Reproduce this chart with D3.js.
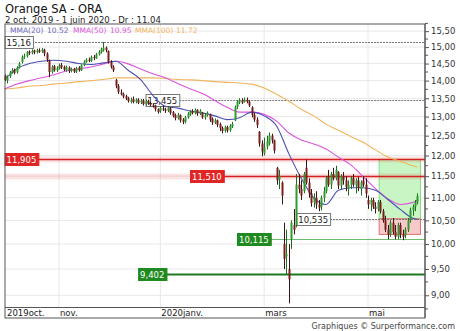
<!DOCTYPE html>
<html>
<head>
<meta charset="utf-8">
<script src="https://cdn.jsdelivr.net/npm/d3@7"></script>
<style>
  body { margin: 0; background: #fff; }
  svg { display: block; font-family: "DejaVu Sans", Verdana, sans-serif; }
</style>
</head>
<body>
<svg id="chart"></svg>
<script>
// Daily OHLC, 2 oct. 2019 -> 1 juin 2020 (one value per trading day)
const opens = [14.15,14.00,14.12,14.25,14.32,14.24,14.38,14.55,14.70,14.72,
  14.86,14.82,14.90,14.84,14.90,14.86,14.92,14.80,14.60,14.25,
  14.42,14.30,14.36,14.46,14.40,14.30,14.38,14.28,14.34,14.26,
  14.38,14.30,14.45,14.55,14.62,14.58,14.70,14.66,14.78,14.84,
  14.90,14.98,14.88,14.55,14.40,14.02,13.85,13.66,13.62,13.56,
  13.50,13.40,13.48,13.40,13.46,13.38,13.44,13.34,13.42,13.36,
  13.32,13.30,13.20,13.15,13.22,13.20,13.16,13.22,13.12,13.04,
  12.96,13.04,12.92,12.86,12.98,13.06,13.14,13.10,13.18,13.08,
  13.10,12.98,13.04,13.06,12.94,12.84,12.90,12.80,12.70,12.62,
  12.72,12.64,12.74,12.90,13.26,13.38,13.44,13.40,13.46,13.40,
  13.25,13.05,12.92,12.60,12.30,12.05,12.22,12.30,12.50,12.38,
  11.70,11.42,11.35,10.00,9.75,9.50,10.10,10.40,10.40,11.30,
  11.20,11.15,11.70,11.35,11.10,10.90,11.00,10.85,10.80,11.00,
  11.15,11.50,11.30,11.55,11.45,11.60,11.28,11.50,11.40,11.20,
  11.30,11.45,11.28,11.40,11.20,11.40,11.30,10.95,10.85,10.95,
  10.80,10.75,10.90,10.70,10.50,10.30,10.20,10.45,10.25,10.15,
  10.40,10.20,10.18,10.30,10.50,10.72,10.80,10.90];
const highs = [14.18,14.15,14.28,14.36,14.35,14.42,14.55,14.75,14.80,14.88,
  14.90,14.93,14.92,14.95,14.96,14.97,14.95,14.84,14.62,14.45,
  14.46,14.42,14.50,14.52,14.44,14.44,14.42,14.38,14.37,14.40,
  14.42,14.48,14.60,14.66,14.68,14.74,14.76,14.82,14.90,14.98,
  15.16,15.02,14.90,14.60,14.45,14.05,13.90,13.75,13.66,13.60,
  13.54,13.52,13.55,13.50,13.50,13.48,13.48,13.46,13.46,13.40,
  13.36,13.32,13.22,13.28,13.30,13.24,13.28,13.26,13.15,13.08,
  13.10,13.06,12.96,13.02,13.12,13.18,13.20,13.22,13.20,13.20,
  13.12,13.08,13.14,13.08,12.98,12.95,12.92,12.84,12.74,12.76,
  12.76,12.80,12.86,13.30,13.45,13.50,13.50,13.52,13.52,13.44,
  13.28,13.10,12.98,12.62,12.38,12.45,12.50,12.58,12.55,12.40,
  11.72,11.65,11.38,10.45,10.30,10.00,10.50,10.75,11.55,11.55,
  11.40,11.60,11.90,11.45,11.20,11.10,11.15,10.95,11.05,11.25,
  11.50,11.65,11.60,11.70,11.75,11.62,11.55,11.60,11.50,11.40,
  11.50,11.55,11.45,11.48,11.40,11.50,11.45,11.05,11.00,11.00,
  10.90,10.95,10.95,10.75,10.60,10.40,10.50,10.55,10.40,10.45,
  10.45,10.30,10.35,10.55,10.78,10.85,10.95,11.10];
const lows = [13.98,13.92,14.08,14.20,14.18,14.20,14.35,14.50,14.64,14.68,
  14.76,14.78,14.78,14.80,14.82,14.82,14.72,14.55,14.10,14.20,
  14.26,14.25,14.32,14.34,14.28,14.26,14.22,14.24,14.22,14.22,
  14.26,14.28,14.42,14.52,14.54,14.55,14.60,14.64,14.74,14.80,
  14.86,14.84,14.50,14.35,14.25,13.78,13.62,13.58,13.50,13.45,
  13.38,13.36,13.36,13.36,13.34,13.34,13.30,13.30,13.32,13.28,
  13.24,13.14,13.08,13.10,13.15,13.10,13.12,13.05,12.98,12.90,
  12.92,12.84,12.80,12.82,12.94,13.02,13.06,13.06,13.02,13.04,
  12.94,12.92,13.00,12.86,12.78,12.80,12.72,12.62,12.56,12.58,
  12.58,12.60,12.70,12.88,13.20,13.34,13.34,13.38,13.36,13.26,
  12.98,12.86,12.70,12.22,11.98,12.00,12.15,12.25,12.30,12.05,
  11.30,11.20,10.85,9.50,9.40,8.85,9.90,10.20,10.35,11.10,
  10.95,11.10,11.30,11.00,10.80,10.78,10.75,10.70,10.72,10.90,
  11.10,11.25,11.20,11.40,11.40,11.20,11.20,11.30,11.15,11.05,
  11.20,11.25,11.10,11.15,11.05,11.25,11.00,10.75,10.70,10.75,
  10.65,10.70,10.65,10.45,10.25,10.10,10.15,10.20,10.10,10.10,
  10.12,10.08,10.12,10.25,10.45,10.60,10.70,10.85];
const closes = [14.02,14.10,14.25,14.30,14.22,14.38,14.50,14.70,14.72,14.85,
  14.82,14.88,14.84,14.90,14.86,14.92,14.80,14.62,14.25,14.40,
  14.30,14.36,14.45,14.38,14.32,14.40,14.28,14.34,14.26,14.36,
  14.30,14.45,14.55,14.62,14.58,14.70,14.66,14.78,14.85,14.92,
  14.98,14.90,14.55,14.40,14.30,13.85,13.68,13.62,13.55,13.50,
  13.42,13.45,13.40,13.46,13.38,13.44,13.34,13.42,13.36,13.32,
  13.30,13.20,13.12,13.24,13.20,13.16,13.24,13.10,13.02,12.96,
  13.05,12.90,12.86,12.98,13.08,13.14,13.10,13.18,13.08,13.16,
  12.98,13.04,13.10,12.92,12.84,12.90,12.78,12.70,12.62,12.72,
  12.64,12.76,12.80,13.25,13.40,13.44,13.38,13.46,13.40,13.30,
  13.05,12.92,12.78,12.30,12.10,12.20,12.35,12.50,12.38,12.12,
  11.40,11.50,11.05,9.70,9.80,9.30,10.45,10.30,11.30,11.20,
  11.05,11.55,11.35,11.10,10.88,11.00,10.85,10.78,11.00,11.15,
  11.45,11.30,11.55,11.45,11.65,11.28,11.50,11.40,11.25,11.30,
  11.45,11.30,11.40,11.22,11.35,11.30,11.10,10.85,10.95,10.80,
  10.75,10.90,10.70,10.50,10.30,10.20,10.45,10.25,10.15,10.40,
  10.20,10.15,10.30,10.50,10.72,10.80,10.90,11.04];

// Moving averages, read every 5 trading days
const maDays = [0,5,10,15,20,25,30,35,40,45,50,55,60,65,70,75,80,85,90,95,100,105,110,115,120,125,130,135,140,145,150,155,160,165,167];
const mma20  = [14.03,14.35,14.50,14.57,14.60,14.57,14.50,14.47,14.52,14.57,14.30,14.03,13.58,13.28,13.23,13.15,13.10,13.02,12.92,12.97,13.12,13.02,12.75,12.04,11.45,11.00,10.85,11.17,11.23,11.23,11.17,10.96,10.74,10.55,10.52];
const mma50  = [13.76,13.90,14.00,14.08,14.17,14.28,14.34,14.40,14.49,14.57,14.49,14.34,14.20,14.08,13.92,13.77,13.63,13.44,13.25,13.12,13.12,13.06,12.88,12.57,12.39,12.29,12.16,11.96,11.77,11.49,11.21,10.98,10.85,10.89,10.95];
const mma100 = [13.76,13.79,13.84,13.86,13.90,13.93,13.97,14.00,14.03,14.08,14.08,14.08,14.08,14.06,14.03,14.02,14.00,13.97,13.95,13.93,13.90,13.79,13.61,13.42,13.20,13.02,12.80,12.64,12.48,12.33,12.14,11.96,11.86,11.75,11.72];

// Month labels (trading-day index of first session)
const monthDays   = [0, 22, 63, 105, 147];
const monthLabels = ["2019oct.", "nov.", "2020janv.", "mars", "mai"];

// Price axis labels
const priceTicks = [9.0,9.5,10.0,10.5,11.0,11.5,12.0,12.5,13.0,13.5,14.0,14.5,15.0,15.5];

// Support / resistance levels
const levelValues = [15.16, 13.455, 11.905, 11.51, 10.535, 10.115, 9.402];
const levelLabels = ["15,16", "13,455", "11,905", "11,510", "10,535", "10,115", "9,402"];
const levelFrom   = [0, 57, 0, 75, 118, 94, 54];
const levelKinds  = ["pivot", "pivot", "resistance", "resistance", "pivot", "support", "support2"];

// Highlighted zone on the last sessions: target (green) and entry (red)
const zoneDays = [151.5, 168.2];
const zoneUp   = [10.535, 11.905];
const zoneDown = [10.20, 10.535];

const legendNames  = ["MMA(20)", "MMA(50)", "MMA(100)"];
const legendValues = ["10.52", "10.95", "11.72"];

const W = 460, H = 331;
const plot = {left: 5, right: 425, top: 24, bottom: 307, axisBottom: 318};

const svg = d3.select("#chart").attr("width", W).attr("height", H);

const x = d3.scaleLinear().domain([0, 170]).range([4.6, 424.9]);
const y = d3.scaleLog().domain([8.785, 15.73]).range([plot.bottom, plot.top]);

// title
svg.append("text").attr("x", 5).attr("y", 12.5)
  .style("font-size", "11.5px").style("fill", "#111")
  .text("Orange SA - ORA");
svg.append("text").attr("x", 5).attr("y", 22.5)
  .style("font-size", "8.5px").style("fill", "#222")
  .text("2 oct. 2019 - 1 juin 2020 - Dr : 11.04");

// grid
const grid = svg.append("g");
grid.selectAll(".hg").data(priceTicks).enter().append("line")
  .attr("x1", plot.left).attr("x2", plot.right)
  .attr("y1", d => y(d)).attr("y2", d => y(d))
  .style("stroke", "#e8e8e8").style("stroke-width", 1);
grid.selectAll(".vg").data(monthDays.slice(1)).enter().append("line")
  .attr("x1", d => x(d)).attr("x2", d => x(d))
  .attr("y1", plot.top).attr("y2", plot.bottom)
  .style("stroke", "#e8e8e8").style("stroke-width", 1);

// zone boxes
svg.append("rect")
  .attr("x", x(zoneDays[0])).attr("width", x(zoneDays[1]) - x(zoneDays[0]))
  .attr("y", y(zoneUp[1])).attr("height", y(zoneUp[0]) - y(zoneUp[1]))
  .style("fill", "#c9f5c4").style("stroke", "#7ee07a").style("stroke-width", 1);
svg.append("rect")
  .attr("x", x(zoneDays[0])).attr("width", x(zoneDays[1]) - x(zoneDays[0]))
  .attr("y", y(zoneDown[1])).attr("height", y(zoneDown[0]) - y(zoneDown[1]))
  .style("fill", "#f7c9c9").style("stroke", "#e07070").style("stroke-width", 1);

// levels
const levelStyle = {
  pivot:      {stroke: "#777", width: 1, dash: "2,1", halo: null, fill: "#fff", text: "#222", border: "#777"},
  resistance: {stroke: "#d42020", width: 1.5, dash: null, halo: "rgba(230,40,40,0.13)", fill: "#e02525", text: "#fff", border: "#e02525"},
  support:    {stroke: "#6dbb6d", width: 1.2, dash: null, halo: null, fill: "#1f8a1f", text: "#fff", border: "#1f8a1f"},
  support2:   {stroke: "#1f7a1f", width: 2, dash: null, halo: null, fill: "#1f8a1f", text: "#fff", border: "#1f8a1f"}
};
const levels = levelValues.map((v, i) => ({value: v, label: levelLabels[i], from: levelFrom[i], kind: levelKinds[i]}));
const lvG = svg.append("g");
levels.forEach(l => {
  const st = levelStyle[l.kind];
  const yy = Math.round(y(l.value)) + 0.5;
  const g = lvG.append("g");
  const label = g.append("text")
    .attr("x", x(l.from) + 2).attr("y", yy + 3.2)
    .style("font-size", "8.5px").style("fill", st.text)
    .text(l.label);
  const tw = label.node().getComputedTextLength();
  const x0 = x(l.from), x1 = x0 + tw + 4;
  if (st.halo) {
    g.insert("rect", "text").attr("x", plot.left).attr("width", plot.right - plot.left)
      .attr("y", yy - 3).attr("height", 6).style("fill", st.halo);
  }
  g.insert("line", "text")
    .attr("x1", l.from === 0 ? plot.left : x1).attr("x2", plot.right)
    .attr("y1", yy).attr("y2", yy)
    .style("stroke", st.stroke).style("stroke-width", st.width)
    .style("stroke-dasharray", st.dash);
  g.insert("rect", "text")
    .attr("x", x0 + 0.5).attr("y", yy - 6).attr("width", tw + 4).attr("height", 12)
    .style("fill", st.fill).style("stroke", st.border).style("stroke-width", 1);
  l.g = g;
});

// moving averages
const maLine = d3.line().x(d => x(d[0])).y(d => y(d[1])).curve(d3.curveMonotoneX);
const maSeries = [
  {values: mma100, color: "#f2b45a"},
  {values: mma50, color: "#dd55dd"},
  {values: mma20, color: "#4a4fb0"}
];
maSeries.forEach(s => {
  svg.append("path")
    .datum(maDays.map((d, i) => [d, s.values[i]]))
    .attr("d", maLine)
    .style("fill", "none").style("stroke", s.color).style("stroke-width", 1.1);
});

// candles
const candles = closes.map((c, i) => ({i: i, o: opens[i], h: highs[i], l: lows[i], c: c}));
const cG = svg.append("g");
cG.selectAll(".wick").data(candles).enter().append("line")
  .attr("x1", d => Math.round(x(d.i)) + 0.5).attr("x2", d => Math.round(x(d.i)) + 0.5)
  .attr("y1", d => y(d.h)).attr("y2", d => y(d.l))
  .style("stroke", d => d.c >= d.o ? "#1c6e1c" : "#3a1414").style("stroke-width", 1);
cG.selectAll(".body").data(candles).enter().append("rect")
  .attr("x", d => Math.round(x(d.i)) - 0.5)
  .attr("width", 2)
  .attr("y", d => y(Math.max(d.o, d.c)))
  .attr("height", d => Math.max(1, Math.abs(y(d.o) - y(d.c))))
  .style("fill", d => d.c >= d.o ? "#2f9a2f" : "#7a1e1e");

// keep level labels above candles
levels.forEach(l => l.g.raise());

// frame
svg.append("rect")
  .attr("x", plot.left).attr("y", plot.top)
  .attr("width", plot.right - plot.left).attr("height", plot.axisBottom - plot.top)
  .style("fill", "none").style("stroke", "#555").style("stroke-width", 1);
svg.append("line")
  .attr("x1", plot.left).attr("x2", plot.right)
  .attr("y1", plot.bottom + 0.5).attr("y2", plot.bottom + 0.5)
  .style("stroke", "#555");

// x labels
svg.selectAll(".ml").data(monthDays).enter().append("text")
  .attr("x", (d, i) => i === 0 ? plot.left + 2 : x(d) + 1)
  .attr("y", 315.5)
  .style("font-size", "8.5px").style("fill", "#222")
  .text((d, i) => monthLabels[i]);

// right axis
const yAxis = svg.append("g")
  .attr("transform", `translate(${plot.right},0)`)
  .call(d3.axisRight(y).tickValues(priceTicks).tickSize(4).tickPadding(2)
    .tickFormat(d => d.toFixed(2).replace(".", ",")));
yAxis.select(".domain").attr("d", `M0,${plot.top}V${plot.axisBottom}`).style("stroke", "#555");
yAxis.selectAll(".tick line").style("stroke", "#555");
yAxis.selectAll("text").style("font-size", "8.5px").style("fill", "#333")
  .style("font-family", "DejaVu Sans, Verdana, sans-serif");
const minor = d3.range(8.75, 15.76, 0.25).filter(v => Math.abs(v * 2 - Math.round(v * 2)) > 0.01);
yAxis.selectAll(".minor").data(minor).enter().append("line")
  .attr("x1", 0).attr("x2", 3).attr("y1", d => y(d)).attr("y2", d => y(d))
  .style("stroke", "#555");

// legend
const legColors = ["#6a6ac0", "#dd55dd", "#f2b45a"];
const legX = [10, 47, 73, 110, 135, 176];
const lg = svg.append("g").style("font-size", "7.5px");
legendNames.forEach((n, i) => {
  lg.append("text").attr("x", legX[i * 2]).attr("y", 32.5).style("fill", legColors[i]).text(n);
  lg.append("text").attr("x", legX[i * 2 + 1]).attr("y", 32.5).style("fill", legColors[i]).text(legendValues[i]);
});

// credits
svg.append("text").attr("x", 455).attr("y", 329)
  .style("font-size", "8px").style("fill", "#444").attr("text-anchor", "end")
  .text("Graphiques © Surperformance.com");
</script>
</body>
</html>
